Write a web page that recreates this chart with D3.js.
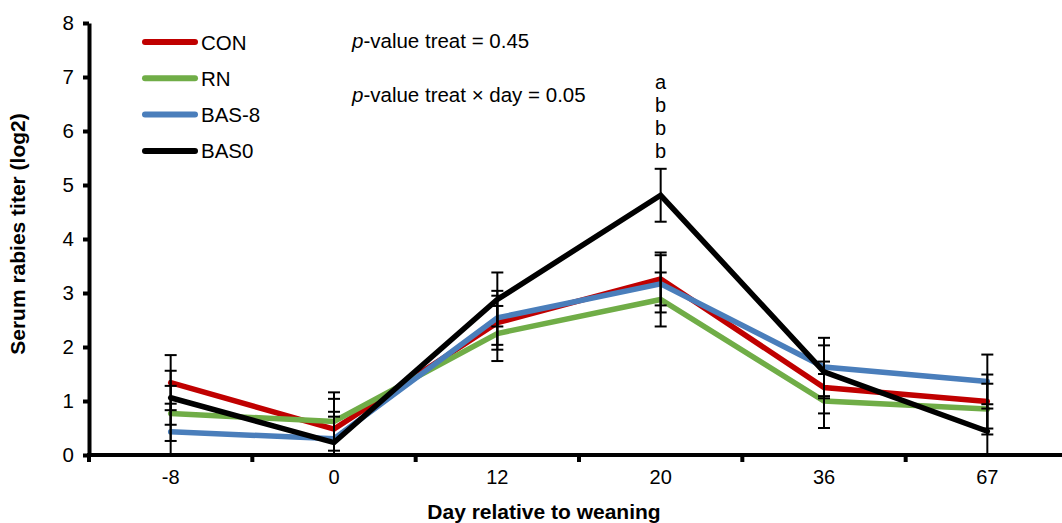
<!DOCTYPE html>
<html>
<head>
<meta charset="utf-8">
<script src="https://cdn.jsdelivr.net/npm/d3@7"></script>
<style>
  body { margin: 0; background: #fff; }
  svg { display: block; font-family: "Liberation Sans", Arial, sans-serif; }
</style>
</head>
<body>
<div id="chart"></div>
<script>
// Données
const days = ["-8", "0", "12", "20", "36", "67"];
const seriesNames = ["CON", "RN", "BAS-8", "BAS0"];
const seriesColors = ["#c00000", "#70ad47", "#4a7ebb", "#000000"];

const conValues  = [1.34, 0.48, 2.45, 3.26, 1.25, 0.99];
const rnValues   = [0.77, 0.62, 2.25, 2.88, 1.00, 0.85];
const bas8Values = [0.43, 0.30, 2.54, 3.17, 1.63, 1.36];
const bas0Values = [1.06, 0.23, 2.88, 4.81, 1.54, 0.44];

const conErr  = [0.51, 0.56, 0.50, 0.49, 0.48, 0.50];
const rnErr   = [0.51, 0.54, 0.51, 0.50, 0.50, 0.47];
const bas8Err = [0.52, 0.50, 0.50, 0.53, 0.54, 0.50];
const bas0Err = [0.50, 0.48, 0.50, 0.49, 0.49, 0.50];

const yTicks = [0, 1, 2, 3, 4, 5, 6, 7, 8];
const letters20 = ["a", "b", "b", "b"];

const allValues = [conValues, rnValues, bas8Values, bas0Values];
const allErr = [conErr, rnErr, bas8Err, bas0Err];

const series = seriesNames.map((name, k) => ({
    name: name,
    color: seriesColors[k],
    points: days.map((d, i) => ({ day: d, v: allValues[k][i], e: allErr[k][i] }))
}));

//---------------------------------------------------------------------------------------

// Canevas
const width = 1062;
const height = 523;

const svg = d3.select("#chart")
    .append("svg")
    .attr("width", width)
    .attr("height", height);

// Échelles
const scaleX = d3.scaleBand()
    .domain(days)
    .range([89, 1069])
    .padding(0);

const scaleY = d3.scaleLinear()
    .domain([0, 8])
    .range([455, 23]);

const cx = d => scaleX(d) + scaleX.bandwidth() / 2;

//---------------------------------------------------------------------------------------

// Axe des Y
svg.append("g")
    .attr("transform", "translate(89, 0)")
    .call(d3.axisLeft(scaleY).tickValues(yTicks).tickSize(6).tickPadding(9).tickSizeOuter(0))
    .call(g => g.select(".domain").attr("stroke-width", 4))
    .call(g => g.selectAll(".tick line").attr("stroke-width", 4))
    .call(g => g.selectAll("text").attr("font-size", "20.5px").attr("fill", "#000"));

// Axe des X (labels au centre des catégories)
svg.append("g")
    .attr("transform", "translate(0, 455)")
    .call(d3.axisBottom(scaleX).tickSize(0).tickPadding(15).tickSizeOuter(0))
    .call(g => g.select(".domain").remove())
    .call(g => g.selectAll("text").attr("font-size", "20px").attr("fill", "#000"));

// Ticks entre les catégories
svg.append("g")
    .selectAll("line")
    .data(days)
    .join("line")
    .attr("x1", d => scaleX(d))
    .attr("x2", d => scaleX(d))
    .attr("y1", 455)
    .attr("y2", 462)
    .attr("stroke", "#000")
    .attr("stroke-width", 4);

svg.append("line")
    .attr("x1", 87).attr("x2", width)
    .attr("y1", 455).attr("y2", 455)
    .attr("stroke", "#000")
    .attr("stroke-width", 4);

//---------------------------------------------------------------------------------------

// Courbes
const line = d3.line()
    .x(d => cx(d.day))
    .y(d => scaleY(d.v));

svg.append("g")
    .selectAll("path")
    .data(series)
    .join("path")
    .attr("d", d => line(d.points))
    .attr("fill", "none")
    .attr("stroke", d => d.color)
    .attr("stroke-width", 5.5)
    .attr("stroke-linecap", "round")
    .attr("stroke-linejoin", "miter");

// Barres d'erreur
const capW = 6;
const errG = svg.append("g").attr("stroke", "#000").attr("stroke-width", 2);

series.forEach(s => {
    s.points.forEach(p => {
        const x = cx(p.day);
        const top = p.v + p.e;
        const bot = Math.max(0, p.v - p.e);
        errG.append("line")
            .attr("x1", x).attr("x2", x)
            .attr("y1", scaleY(top)).attr("y2", scaleY(bot));
        errG.append("line")
            .attr("x1", x - capW).attr("x2", x + capW)
            .attr("y1", scaleY(top)).attr("y2", scaleY(top));
        if (p.v - p.e > 0) {
            errG.append("line")
                .attr("x1", x - capW).attr("x2", x + capW)
                .attr("y1", scaleY(bot)).attr("y2", scaleY(bot));
        }
    });
});

// Lettres au jour 20
svg.append("g")
    .selectAll("text")
    .data(letters20)
    .join("text")
    .attr("x", cx("20"))
    .attr("y", (d, i) => 89 + i * 23)
    .attr("text-anchor", "middle")
    .attr("font-size", "20px")
    .text(d => d);

//---------------------------------------------------------------------------------------

// Légende
const legend = svg.append("g")
    .selectAll("g")
    .data(series)
    .join("g")
    .attr("transform", (d, i) => `translate(0, ${42 + i * 36.3})`);

legend.append("line")
    .attr("x1", 145).attr("x2", 195)
    .attr("y1", 0).attr("y2", 0)
    .attr("stroke", d => d.color)
    .attr("stroke-width", 6)
    .attr("stroke-linecap", "round");

legend.append("text")
    .attr("x", 201)
    .attr("y", 7.5)
    .attr("font-size", "20.5px")
    .text(d => d.name);

// p-values
const pv1 = svg.append("text").attr("x", 352).attr("y", 48).attr("font-size", "20.5px");
pv1.append("tspan").attr("font-style", "italic").text("p");
pv1.append("tspan").text("-value treat = 0.45");

const pv2 = svg.append("text").attr("x", 352).attr("y", 102).attr("font-size", "20.5px");
pv2.append("tspan").attr("font-style", "italic").text("p");
pv2.append("tspan").text("-value treat × day = 0.05");

// Titres des axes
svg.append("text")
    .attr("x", 544)
    .attr("y", 519)
    .attr("text-anchor", "middle")
    .attr("font-size", "21px")
    .attr("font-weight", "bold")
    .text("Day relative to weaning");

svg.append("text")
    .attr("transform", "translate(25, 234) rotate(-90)")
    .attr("text-anchor", "middle")
    .attr("font-size", "21px")
    .attr("font-weight", "bold")
    .text("Serum rabies titer (log2)");
</script>
</body>
</html>
